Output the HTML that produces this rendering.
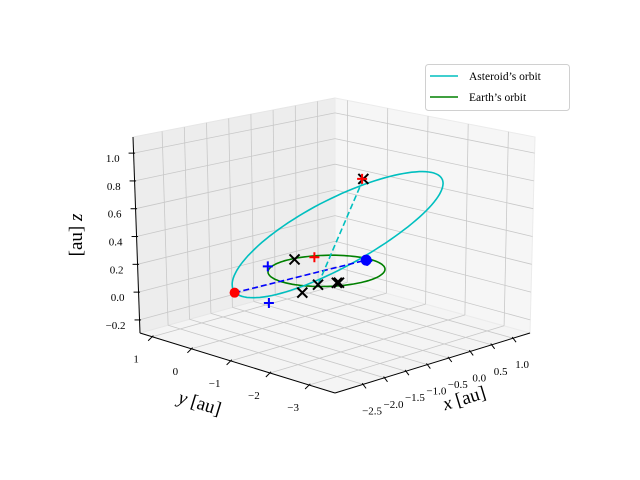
<!DOCTYPE html>
<html><head><meta charset="utf-8"><style>
html,body{margin:0;padding:0;background:#fff;}
svg{display:block;font-family:"Liberation Serif",serif;}
</style></head><body>
<svg id="chart" width="640" height="480" viewBox="0 0 640 480">
<g id="panes"></g>
<g id="grid"></g>
<g id="axes"></g>
<g id="series"></g>
<g id="legend">
  <rect x="425.5" y="64.5" width="144" height="46" rx="3" fill="#fff" stroke="#d0d0d0"/>
  <line x1="430" y1="76" x2="458" y2="76" stroke="#00bfbf" stroke-width="1.6"/>
  <text x="469" y="80" font-size="11.5">Asteroid’s orbit</text>
  <line x1="430" y1="97" x2="458" y2="97" stroke="#008000" stroke-width="1.6"/>
  <text x="469" y="101" font-size="11.5">Earth’s orbit</text>
</g>
</svg>
<script>
const xTicks=[-2.5,-2.0,-1.5,-1.0,-0.5,0.0,0.5,1.0];
const yTicks=[-3,-2,-1,0,1];
const zTicks=[-0.2,0.0,0.2,0.4,0.6,0.8,1.0];
const xLabels=["−2.5","−2.0","−1.5","−1.0","−0.5","0.0","0.5","1.0"];
const yLabels=["−3","−2","−1","0","1"];
const zLabels=["−0.2","0.0","0.2","0.4","0.6","0.8","1.0"];
const earthCenter=[0,0,0];
const earthAxisA=[1,0,0];
const earthAxisB=[0,1,0];
const asteroidCenter=[0.55,0.33,0.21];
const asteroidAxisA=[2.40,0,0.225];
const asteroidAxisB=[0.27,-0.14,-0.23];
const redDot=[-2.02,0.12,0];
const blueDot=[0.92,0,0];
const blackCrosses=[[0.12,0.94,0],[-1.22,-0.72,0],[-0.70,-0.55,0],[-0.40,-0.70,0],[-0.37,-0.72,0],[-0.04,-0.97,0.75]];
const redPluses=[[0.446,0.794,0],[-0.05,-0.95,0.75]];
const bluePluses=[[-0.50,0.94,0],[-2.05,-0.78,0],[0.90,-0.05,0]];
const nodeLine=[[-2.02,0.12,0],[0.92,0,0]];
const apsisLine=[[-0.04,-0.97,0.75],[-0.70,-0.55,0]];

const XMIN=-3.155,XMAX=1.395,YMIN=-3.66,YMAX=1.31,ZMIN=-0.294,ZMAX=1.116;
const BOT={F:[335,393],R:[530,333],L:[140,333],B:[335,279]};
const TOP={F:[336,181],R:[535,137],L:[133,137],B:[335,98]};
function bil(c,s,t,i){return c.F[i]*(1-s)*(1-t)+c.R[i]*s*(1-t)+c.L[i]*(1-s)*t+c.B[i]*s*t;}
function proj(p){
  const s=(p[0]-XMIN)/(XMAX-XMIN),t=(p[1]-YMIN)/(YMAX-YMIN),w=(p[2]-ZMIN)/(ZMAX-ZMIN);
  const bx=bil(BOT,s,t,0),by=bil(BOT,s,t,1),tx=bil(TOP,s,t,0),ty=bil(TOP,s,t,1);
  return [bx+(tx-bx)*w,by+(ty-by)*w];
}
const NS="http://www.w3.org/2000/svg";
function mk(tag,attrs,parent){const e=document.createElementNS(NS,tag);for(const k in attrs)e.setAttribute(k,attrs[k]);parent.appendChild(e);return e;}
function poly(pts){return pts.map(p=>{const q=proj(p);return q[0].toFixed(1)+","+q[1].toFixed(1);}).join(" ");}
const panes=document.getElementById('panes'),grid=document.getElementById('grid'),axes=document.getElementById('axes'),series=document.getElementById('series');

let e;
e=mk('polygon',{points:poly([[XMIN,YMIN,ZMIN],[XMAX,YMIN,ZMIN],[XMAX,YMAX,ZMIN],[XMIN,YMAX,ZMIN]]),fill:'#f4f4f4',stroke:'#ebebeb'},panes);


e=mk('polygon',{points:poly([[XMIN,YMAX,ZMIN],[XMAX,YMAX,ZMIN],[XMAX,YMAX,ZMAX],[XMIN,YMAX,ZMAX]]),fill:'#ededed',stroke:'#e6e6e6'},panes);


e=mk('polygon',{points:poly([[XMAX,YMIN,ZMIN],[XMAX,YMAX,ZMIN],[XMAX,YMAX,ZMAX],[XMAX,YMIN,ZMAX]]),fill:'#f6f6f6',stroke:'#ebebeb'},panes);



function gl(a,b,name){const l=mk('polyline',{points:poly([a,b]),fill:'none',stroke:'#c8c8c8','stroke-width':0.8},grid);}
xTicks.forEach(x=>{gl([x,YMIN,ZMIN],[x,YMAX,ZMIN],'grid-x-floor');gl([x,YMAX,ZMIN],[x,YMAX,ZMAX],'grid-x-wall');});
yTicks.forEach(y=>{gl([XMIN,y,ZMIN],[XMAX,y,ZMIN],'grid-y-floor');gl([XMAX,y,ZMIN],[XMAX,y,ZMAX],'grid-y-wall');});
zTicks.forEach(z=>{gl([XMIN,YMAX,z],[XMAX,YMAX,z],'grid-z-left');gl([XMAX,YMAX,z],[XMAX,YMIN,z],'grid-z-right');});

function axl(a,b,name){const l=mk('polyline',{points:poly([a,b]),fill:'none',stroke:'#000','stroke-width':1},axes);}
axl([XMIN,YMIN,ZMIN],[XMAX,YMIN,ZMIN],'x-axis-line');
axl([XMIN,YMIN,ZMIN],[XMIN,YMAX,ZMIN],'y-axis-line');
axl([XMIN,YMAX,ZMIN],[XMIN,YMAX,ZMAX],'z-axis-line');
function tick(p,dx,dy,name){const q=proj(p);const l=mk('line',{x1:q[0]-dx*0.3,y1:q[1]-dy*0.3,x2:q[0]+dx,y2:q[1]+dy,stroke:'#000','stroke-width':1},axes);}
function lab(p,dx,dy,txt,name,anchor){const q=proj(p);const t=mk('text',{x:q[0]+dx,y:q[1]+dy,'font-size':11,'text-anchor':anchor||'middle'},axes);t.textContent=txt;}
xTicks.forEach((x,i)=>{tick([x,YMIN,ZMIN],3,4,'x-tick');lab([x,YMIN,ZMIN],9,30,xLabels[i],'x-tick-label');});
yTicks.forEach((y,i)=>{tick([XMIN,y,ZMIN],-4,4,'y-tick');lab([XMIN,y,ZMIN],-16,26,yLabels[i],'y-tick-label');});
zTicks.forEach((z,i)=>{tick([XMIN,YMAX,z],-5,0,'z-tick');lab([XMIN,YMAX,z],-14,9,zLabels[i],'z-tick-label','end');});

let t;
t=mk('text',{x:466,y:404,'font-size':19,'text-anchor':'middle',transform:'rotate(-17 466 404)'},axes);
t.innerHTML='<tspan font-style="italic">x</tspan> [au]';


t=mk('text',{x:198,y:409,'font-size':19,'text-anchor':'middle',transform:'rotate(17 198 409)'},axes);
t.innerHTML='<tspan font-style="italic">y</tspan> [au]';


t=mk('text',{x:82,y:235,'font-size':19,'text-anchor':'middle',transform:'rotate(-90 82 235)'},axes);
t.innerHTML='[au] <tspan font-style="italic">z</tspan>';



function ellipse(c,a,b){const pts=[];for(let k=0;k<=120;k++){const th=2*Math.PI*k/120;pts.push([c[0]+a[0]*Math.cos(th)+b[0]*Math.sin(th),c[1]+a[1]*Math.cos(th)+b[1]*Math.sin(th),c[2]+a[2]*Math.cos(th)+b[2]*Math.sin(th)]);}return pts;}
e=mk('polyline',{points:poly(ellipse(earthCenter,earthAxisA,earthAxisB)),fill:'none',stroke:'#008000','stroke-width':1.6},series);


e=mk('polyline',{points:poly(ellipse(asteroidCenter,asteroidAxisA,asteroidAxisB)),fill:'none',stroke:'#00bfbf','stroke-width':1.6},series);


e=mk('polyline',{points:poly(nodeLine),fill:'none',stroke:'#0000ff','stroke-width':1.6,'stroke-dasharray':'6,3'},series);


e=mk('polyline',{points:poly(apsisLine),fill:'none',stroke:'#00bfbf','stroke-width':1.6,'stroke-dasharray':'6,3'},series);



blackCrosses.forEach(p=>{const q=proj(p);const g=mk('path',{d:`M${q[0]-5},${q[1]-5}L${q[0]+5},${q[1]+5}M${q[0]-5},${q[1]+5}L${q[0]+5},${q[1]-5}`,stroke:'#000','stroke-width':2,fill:'none'},series);

});
redPluses.forEach(p=>{const q=proj(p);const g=mk('path',{d:`M${q[0]-5},${q[1]}L${q[0]+5},${q[1]}M${q[0]},${q[1]-5}L${q[0]},${q[1]+5}`,stroke:'#ff0000','stroke-width':2,fill:'none'},series);

});
bluePluses.forEach(p=>{const q=proj(p);const g=mk('path',{d:`M${q[0]-5},${q[1]}L${q[0]+5},${q[1]}M${q[0]},${q[1]-5}L${q[0]},${q[1]+5}`,stroke:'#0000ff','stroke-width':2,fill:'none'},series);

});
let q=proj(redDot);
e=mk('circle',{cx:q[0],cy:q[1],r:5,fill:'#ff0000'},series);


q=proj(blueDot);
e=mk('circle',{cx:q[0],cy:q[1],r:5.5,fill:'#0000ff'},series);


</script>
</body></html>
